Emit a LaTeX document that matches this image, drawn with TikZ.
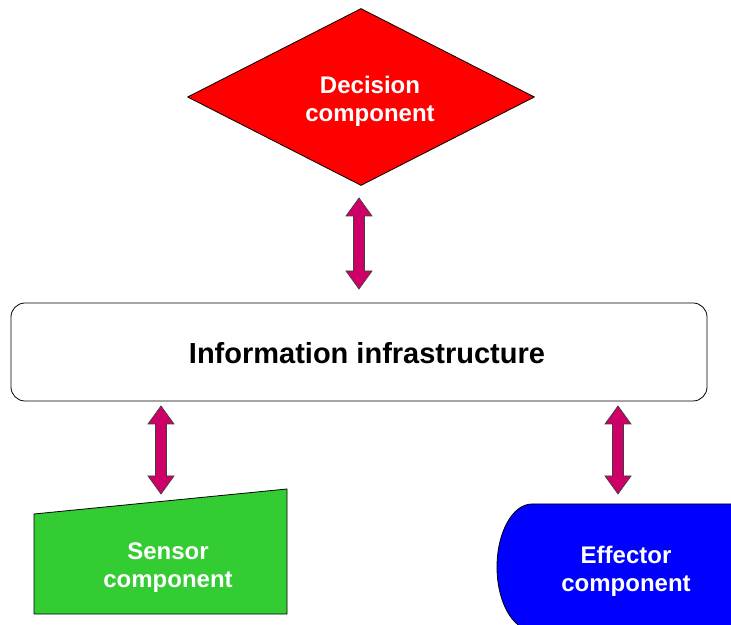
\documentclass[tikz,border=0pt]{standalone}
\usepackage{fontspec}
\setmainfont{Liberation Sans}
\usetikzlibrary{shapes.geometric,calc}
\definecolor{arrowmag}{HTML}{CC0066}
\definecolor{decred}{HTML}{FF0000}
\definecolor{sengreen}{HTML}{33CC33}
\definecolor{effblue}{HTML}{0000FF}
\tikzset{
  dbl/.style={fill=arrowmag, draw=black!75, line width=0.7pt, line join=miter},
  lbl/.style={font=\fontsize{24}{28}\selectfont\bfseries, text=white, align=center, inner sep=0pt},
  outline/.style={draw=black, line width=0.8pt}
}
\newcommand\darrow[2]{\draw[dbl] let \p1=(#1), \p2=(#2) in
  (\x1,\y1) -- ++(13pt,-18pt) -- ++(-7.5pt,0pt) -- (\x1+5.5pt,\y2+18pt) -- ++(7.5pt,0pt)
  -- (\x2,\y2) -- ++(-13pt,18pt) -- ++(7.5pt,0pt) -- (\x1-5.5pt,\y1-18pt) -- ++(-7.5pt,0pt) -- cycle;}
\begin{document}
\begin{tikzpicture}[x=1pt,y=1pt]
\useasboundingbox (0,0) rectangle (731,624);
\clip (0,0) rectangle (731,624);
% decision diamond
\node[diamond, fill=decred, outline, minimum width=347pt, minimum height=177pt, inner sep=0pt] (dec) at (361,527) {};
\node[lbl] (dect) at (370,523) {Decision\\component};
% information infrastructure
\node[rectangle, rounded corners=14pt, outline, fill=white, minimum width=696pt, minimum height=98pt, inner sep=0pt] (info) at (359,272) {};
\node[font=\fontsize{29}{32}\selectfont\bfseries, inner sep=0pt] (infot) at (367,271) {Information infrastructure};
% sensor
\draw[outline, fill=sengreen] (34,110) coordinate (sTL) -- (287,135) coordinate (sTR) -- (287,10) coordinate (sBR) -- (34,10) coordinate (sBL) -- cycle;
\node[lbl] (sen) at (168,56) {Sensor\\component};
% effector
\draw[outline, fill=effblue] (770,120) -- (532,120) arc[start angle=90, end angle=270, x radius=35pt, y radius=63pt] -- (770,-6) -- cycle;
\node[lbl] (eff) at (626,53) {Effector\\component};
% arrow end points
\coordinate (a1t) at (359,426);
\coordinate (a1b) at (359,335);
\coordinate (a2t) at (161,218);
\coordinate (a2b) at (161,130);
\coordinate (a3t) at (618,218);
\coordinate (a3b) at (618,130);
\darrow{a1t}{a1b}
\darrow{a2t}{a2b}
\darrow{a3t}{a3b}
\end{tikzpicture}
\end{document}
